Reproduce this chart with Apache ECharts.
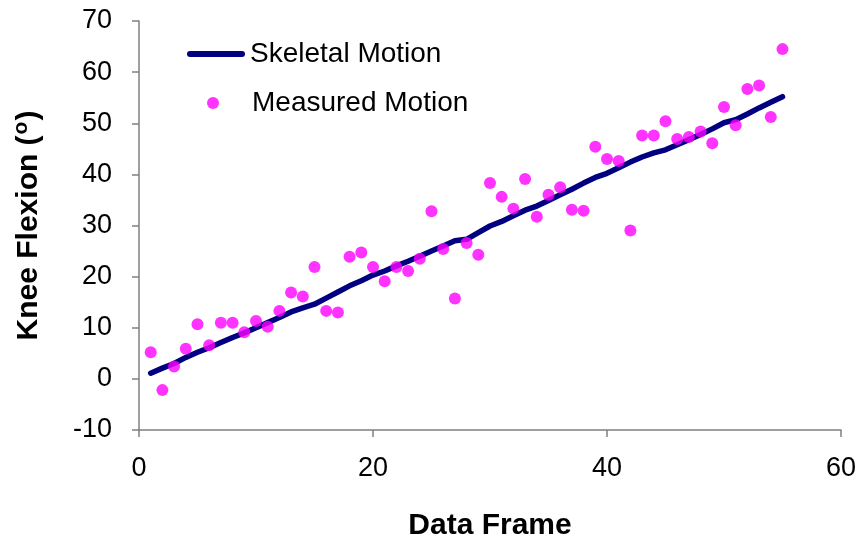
<!DOCTYPE html>
<html>
<head>
<meta charset="utf-8">
<script src="https://cdn.jsdelivr.net/npm/echarts@6/dist/echarts.min.js"></script>
<style>html,body{margin:0;padding:0;background:#fff}#c{width:859px;height:546px}</style>
</head>
<body>
<div id="c"></div>
<script>
const frames = [];
for (let i = 1; i <= 55; i++) frames.push(i);

const measured = [5.2, -2.2, 2.4, 5.9, 10.7, 6.6, 11.0, 11.0, 9.1, 11.3,
  10.2, 13.3, 16.9, 16.1, 21.9, 13.3, 13.0, 23.9, 24.7, 21.9,
  19.1, 21.9, 21.1, 23.5, 32.8, 25.4, 15.7, 26.6, 24.3, 38.3,
  35.6, 33.3, 39.1, 31.7, 36.0, 37.5, 33.1, 32.9, 45.4, 43.0,
  42.6, 29.0, 47.6, 47.6, 50.4, 46.9, 47.3, 48.4, 46.1, 53.2,
  49.6, 56.7, 57.4, 51.2, 64.5];

const skeletal = [1.1, 2.1, 3.0, 4.2, 5.2, 6.1, 7.1, 8.1, 9.0, 10.0,
  11.0, 12.0, 13.1, 13.9, 14.6, 15.8, 17.0, 18.2, 19.2, 20.3,
  21.1, 22.1, 23.0, 24.0, 25.0, 26.0, 27.0, 27.3, 28.6, 29.9,
  30.8, 31.9, 33.0, 33.8, 34.9, 36.0, 37.1, 38.3, 39.4, 40.2,
  41.3, 42.4, 43.4, 44.2, 44.8, 45.8, 46.8, 47.8, 48.9, 50.1,
  50.7, 51.8, 53.0, 54.1, 55.2];

const seriesNames = ['Skeletal Motion', 'Measured Motion'];
const xTicks = [0, 20, 40, 60];
const yTicks = [-10, 0, 10, 20, 30, 40, 50, 60, 70];

const chart = echarts.init(document.getElementById('c'));
const font = 'Liberation Sans, Arial, sans-serif';
const legendText = { fontFamily: font, fontSize: 28, color: '#000' };
chart.setOption({
  animation: false,
  backgroundColor: '#fff',
  grid: { left: 139, right: 17, top: 21, bottom: 115, containLabel: false },
  legend: [
    {
      left: 187, top: 40, padding: 0,
      itemWidth: 58, itemHeight: 6,
      textStyle: legendText,
      data: [{ name: seriesNames[0], icon: 'path://M3,0 L55,0 A3,3 0 0 1 55,6 L3,6 A3,3 0 0 1 3,0 Z' }]
    },
    {
      left: 207, top: 89, padding: 0,
      itemWidth: 12, itemHeight: 12,
      textStyle: Object.assign({ padding: [0, 0, 0, 28] }, legendText),
      data: [{ name: seriesNames[1], icon: 'circle' }]
    }
  ],
  xAxis: {
    type: 'value', min: xTicks[0], max: xTicks[xTicks.length - 1], interval: 20,
    name: 'Data Frame', nameLocation: 'middle', nameGap: 81,
    nameTextStyle: { fontFamily: font, fontSize: 30, fontWeight: 'bold', color: '#000' },
    axisLine: { onZero: false, lineStyle: { color: '#808080', width: 1.5 } },
    axisTick: { inside: false, length: 7, lineStyle: { color: '#808080', width: 1.5 } },
    axisLabel: { fontFamily: font, fontSize: 27, color: '#000', margin: 25 },
    splitLine: { show: false }
  },
  yAxis: {
    type: 'value', min: yTicks[0], max: yTicks[yTicks.length - 1], interval: 10,
    name: '{t|Knee Flexion (}{s|o}{t|)}', nameLocation: 'middle', nameGap: 93,
    nameTextStyle: {
      rich: {
        t: { fontFamily: font, fontSize: 30, fontWeight: 'bold', color: '#000' },
        s: { fontFamily: font, fontSize: 21, fontWeight: 'bold', color: '#000', verticalAlign: 'top', padding: [0, 1, 14, 1] }
      }
    },
    axisLine: { onZero: false, lineStyle: { color: '#808080', width: 1.5 } },
    axisTick: { inside: false, length: 7, lineStyle: { color: '#808080', width: 1.5 } },
    axisLabel: { fontFamily: font, fontSize: 27, color: '#000', margin: 27 },
    splitLine: { show: false }
  },
  series: [
    {
      name: seriesNames[0], type: 'line',
      data: frames.map((f, i) => [f, skeletal[i]]),
      showSymbol: false, symbol: 'none',
      lineStyle: { color: '#000080', width: 5.5, cap: 'round', join: 'round' },
      itemStyle: { color: '#000080' },
      z: 2
    },
    {
      name: seriesNames[1], type: 'scatter',
      data: frames.map((f, i) => [f, measured[i]]),
      symbol: 'circle', symbolSize: 12,
      itemStyle: { color: '#FF00FF' },
      z: 3
    }
  ]
});
</script>
</body>
</html>
